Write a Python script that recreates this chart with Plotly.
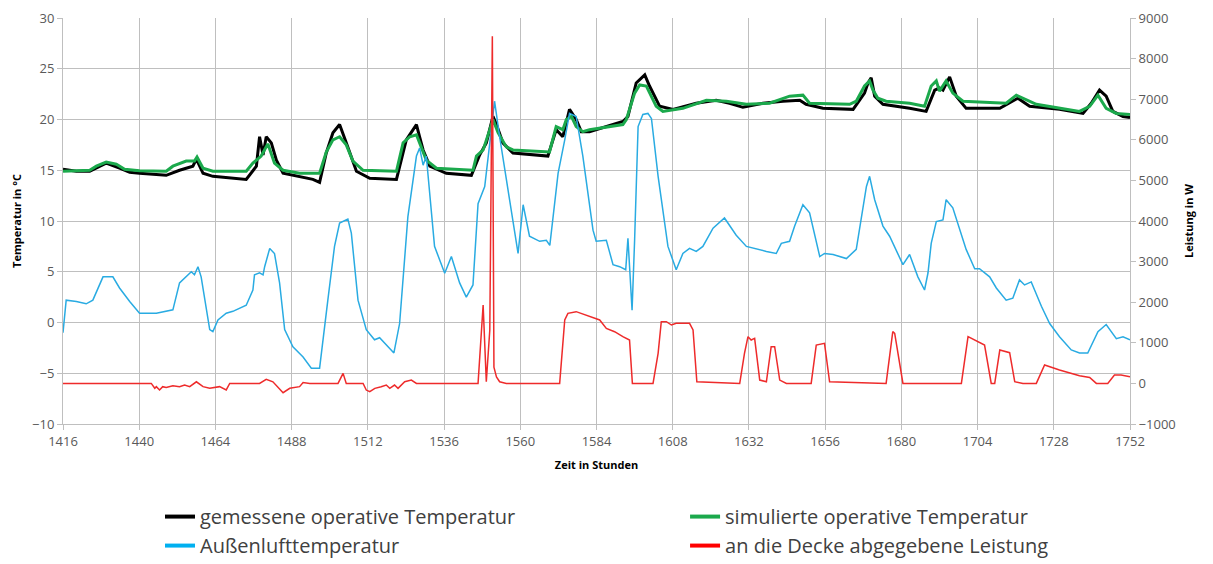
import plotly.graph_objects as go

# ---------------- data ----------------
hours_measured = [1416, 1420.2, 1424.4, 1429.6, 1433.8, 1437, 1440.1, 1448.5, 1452.7, 1456.9, 1458, 1460.1,
                  1463.2, 1469.5, 1473.7, 1476.9, 1477.9, 1479, 1480, 1481.6, 1483.2, 1485.3, 1490.5, 1494.7,
                  1496.8, 1498.9, 1501, 1503.1, 1505.2, 1508.4, 1512.6, 1521, 1524.1, 1527.3, 1528.3, 1529.4,
                  1531.5, 1536.7, 1544.6, 1547.2, 1549.3, 1551.4, 1552.5, 1554.5, 1557.7, 1568.7, 1571.3,
                  1573.4, 1575.5, 1577.6, 1579.2, 1581.8, 1592.3, 1593.9, 1596.5, 1599.2, 1600.7, 1603.9,
                  1608.1, 1615.4, 1621.7, 1625.9, 1630.1, 1636.4, 1642.7, 1648, 1650, 1655.3, 1664.8, 1666.8,
                  1668.4, 1669.5, 1670.5, 1671.6, 1674.2, 1682.6, 1687.8, 1690.5, 1692, 1693.1, 1695.2,
                  1697.3, 1700.4, 1711, 1716.7, 1720.4, 1729.8, 1737.2, 1739.8, 1742.4, 1744.5, 1746.6,
                  1749.8, 1752]
temp_measured = [15.1, 14.9, 14.9, 15.7, 15.2, 14.8, 14.7, 14.5, 15.0, 15.4, 16.1, 14.7,
                 14.4, 14.2, 14.1, 15.4, 18.3, 16.5, 18.3, 17.7, 16.0, 14.7, 14.4, 14.1,
                 13.8, 16.7, 18.7, 19.5, 17.7, 14.9, 14.2, 14.1, 18.0, 19.5, 18.3, 17.0,
                 15.4, 14.7, 14.5, 16.5, 17.7, 20.3, 19.5, 17.7, 16.7, 16.4, 19.0,
                 18.3, 21.0, 20.0, 18.8, 18.8, 19.8, 20.3, 23.6, 24.4, 23.3, 21.3,
                 21.0, 21.6, 21.9, 21.6, 21.2, 21.6, 21.8, 21.9, 21.5, 21.1, 21.0, 21.9,
                 22.6, 23.6, 24.1, 22.3, 21.5, 21.1, 20.8, 22.9, 23.1, 22.9, 24.2,
                 22.3, 21.1, 21.1, 22.1, 21.3, 21.0, 20.6, 21.6, 22.9, 22.3, 20.8,
                 20.3, 20.2]

hours_simulated = [1416, 1424.4, 1426.5, 1429.6, 1432.8, 1435.4, 1440.1, 1448.5, 1450.6, 1454.8, 1457.4,
                   1458.2, 1460.1, 1463.2, 1473.7, 1475.8, 1478.4, 1480.5, 1482.6, 1485.3, 1490.5, 1496.8,
                   1498.9, 1501, 1503.1, 1505.2, 1507.3, 1510.5, 1521, 1523.1, 1525.2, 1527.3, 1528.3,
                   1530.4, 1533.6, 1545.1, 1546.2, 1548.3, 1550.4, 1551.4, 1553, 1555.6, 1557.7, 1569.2,
                   1571.3, 1573.4, 1574.5, 1576.1, 1577.6, 1579.7, 1581.8, 1592.3, 1593.4, 1596, 1597.6,
                   1599.7, 1602.8, 1604.9, 1611.2, 1618.6, 1624.9, 1631.2, 1638.5, 1644.8, 1649, 1651.1,
                   1663.7, 1665.8, 1668.4, 1670, 1671.05, 1672.6, 1675.2, 1682.6, 1687.3, 1689.4, 1691,
                   1692, 1694.1, 1696.2, 1699.4, 1713, 1716.2, 1722.5, 1736.1, 1739.3, 1741.9, 1744.5,
                   1747.7, 1752]
temp_simulated = [14.9, 15.0, 15.4, 15.8, 15.6, 15.1, 14.95, 14.9, 15.4, 15.9, 15.9,
                  16.3, 15.2, 14.9, 14.9, 15.7, 16.4, 17.6, 15.7, 15.0, 14.7, 14.7,
                  16.8, 18.0, 18.3, 17.5, 15.9, 15.0, 14.9, 17.7, 18.3, 18.5, 17.7,
                  16.0, 15.2, 15.0, 16.4, 17.0, 19.0, 20.0, 18.7, 17.3, 17.0, 16.8,
                  19.3, 19.0, 20.0, 20.3, 19.3, 18.8, 19.0, 19.5, 20.0, 22.6, 23.4,
                  23.3, 21.3, 20.8, 21.1, 21.9, 21.8, 21.5, 21.6, 22.3, 22.4, 21.6,
                  21.5, 21.8, 23.3, 23.8, 22.9, 22.1, 21.8, 21.6, 21.3, 23.3, 23.8,
                  22.8, 23.8, 22.6, 21.8, 21.6, 22.4, 21.5, 20.8, 21.3, 22.4, 21.1,
                  20.6, 20.5]

hours_outdoor = [1416, 1417, 1420.2, 1423.3, 1425.4, 1428.6, 1431.7, 1433.8, 1437, 1440.1, 1445.4, 1450.6,
                 1452.7, 1454.8, 1456.4, 1457.4, 1458.5, 1459.5, 1461.1, 1462.2, 1463.2, 1464.8, 1467.4,
                 1469.5, 1473.7, 1475.8, 1476.3, 1477.9, 1479, 1479.5, 1481.1, 1482.6, 1484.2, 1485.8,
                 1488.4, 1491.6, 1494.2, 1496.8, 1499.4, 1501.5, 1503.1, 1505.7, 1506.8, 1508.9, 1511.5,
                 1514.1, 1515.7, 1517.8, 1520.2, 1522, 1524.6, 1527.3, 1528.3, 1529.4, 1530.4, 1533.0,
                 1536.2, 1538.3, 1540.9, 1543, 1545.1, 1546.7, 1548.8, 1550.4, 1551.9, 1553.5, 1556.7,
                 1559.3, 1560.9, 1562.9, 1566.1, 1568.2, 1569.3, 1571.9, 1574, 1575.5, 1577.6, 1579.7,
                 1582.9, 1583.9, 1587.1, 1589.2, 1591.3, 1593.2, 1593.9, 1594.4, 1595.2, 1596, 1597.1,
                 1598.6, 1600.2, 1601.3, 1603.4, 1606.5, 1609.1, 1611.2, 1613.3, 1615.4, 1617.5, 1620.7,
                 1624.3, 1628, 1631.2, 1637.5, 1640.6, 1642.2, 1644.8, 1646.4, 1649, 1651.1, 1654.3,
                 1655.8, 1658.5, 1662.7, 1665.8, 1669, 1670, 1671.6, 1674.2, 1676.3, 1680.5, 1682.6,
                 1685.2, 1687.3, 1688.4, 1689.4, 1691, 1693.1, 1694.1, 1696.2, 1700.4, 1703.1, 1704.6,
                 1707.8, 1709.9, 1713, 1715.1, 1717.2, 1718.8, 1720.9, 1724.1, 1726.7, 1729.8, 1733.5,
                 1736.1, 1738.7, 1741.9, 1744.5, 1747.7, 1749.8, 1752]
temp_outdoor = [-1.0, 2.2, 2.07, 1.84, 2.2, 4.5, 4.5, 3.4, 2.07, 0.92, 0.92, 1.25,
                3.9, 4.5, 5.0, 4.7, 5.5, 4.5, 1.6, -0.7, -0.9, 0.26, 0.92,
                1.1, 1.7, 3.2, 4.7, 4.9, 4.7, 5.5, 7.3, 6.8, 3.9, -0.7,
                -2.4, -3.4, -4.5, -4.5, 2.2, 7.5, 9.8, 10.2, 8.8, 2.2, -0.7,
                -1.7, -1.5, -2.2, -3.0, -0.1, 10.4, 16.4, 17.2, 15.5, 16.4, 7.5,
                4.85, 6.5, 3.9, 2.5, 3.7, 11.7, 13.4, 17.7, 21.8, 18.3, 12.1,
                6.8, 11.6, 8.5, 8.0, 8.1, 7.6, 14.7, 18.0, 20.6, 20.3, 16.4,
                9.1, 8.0, 8.1, 5.7, 5.5, 5.2, 8.3, 5.5, 1.2, 8.1, 19.3,
                20.5, 20.6, 20.1, 14.4, 7.5, 5.2, 6.8, 7.3, 7.0, 7.5, 9.3,
                10.3, 8.6, 7.5, 7.0, 6.8, 7.8, 8.0, 9.5, 11.6, 10.8, 6.5,
                6.8, 6.7, 6.3, 7.2, 13.4, 14.4, 12.1, 9.5, 8.5, 5.7, 6.7,
                4.5, 3.2, 4.9, 7.8, 9.95, 10.1, 12.1, 11.3, 7.2, 5.3, 5.3,
                4.5, 3.4, 2.2, 2.4, 4.2, 3.7, 4.0, 1.6, -0.1, -1.4, -2.7,
                -3.0, -3.0, -0.9, -0.2, -1.6, -1.4, -1.7]

hours_power = [1416, 1443.8, 1444.9, 1445.4, 1446.4, 1447.4, 1448.5, 1450.6, 1452.7, 1454.3, 1455.9, 1458,
               1460.1, 1462.2, 1465.3, 1467.4, 1468.5, 1477.9, 1480, 1482.1, 1485.3, 1487.4, 1490.5, 1491.6,
               1493.7, 1502.6, 1504.2, 1505.2, 1510.5, 1511.5, 1512.6, 1514.2, 1516.2, 1517.8, 1518.9,
               1520.4, 1521.5, 1523.6, 1525.7, 1527.3, 1546.7, 1548.3, 1549.3, 1550.4, 1551.2, 1551.7,
               1552.5, 1553.5, 1555.6, 1572.4, 1574, 1575, 1577.6, 1580.8, 1585, 1587.1, 1589.7, 1592.3,
               1594.4, 1595.3, 1601.8, 1603.4, 1604.4, 1606, 1607.6, 1609.1, 1613.3, 1614.4, 1615.6,
               1629.1, 1630.6, 1631.7, 1632.7, 1633.8, 1635.4, 1637.5, 1639.0, 1640.1, 1641.7, 1643.8,
               1651.6, 1653.2, 1655.8, 1657.4, 1675.2, 1677.3, 1677.9, 1680.5, 1698.9, 1701, 1703.1,
               1706.2, 1708.3, 1709.4, 1711, 1714.1, 1715.7, 1718.3, 1722.5, 1725.1, 1729.8, 1736.1,
               1739.3, 1741.4, 1745, 1747.1, 1749.2, 1752]
power_w = [0, 0, -120, -80, -160, -80, -100, -60, -80, -40, -80, 40,
           -80, -120, -80, -160, 0, 0, 100, 40, -230, -120, -80, 20,
           0, 0, 247, 0, 0, -164, -205, -123, -82, -40, -123,
           -40, -123, 41, 82, 0, 0, 1932, 41, 1315, 8550, 400,
           160, 40, 0, 0, 1562, 1726, 1767, 1685, 1562, 1356, 1274, 1151,
           1069, 0, 0, 740, 1521, 1521, 1438, 1480, 1480, 1315, 41,
           0, 740, 1151, 1069, 1110, 82, 41, 904, 904, 82, 0,
           0, 945, 986, 41, 0, 1274, 1233, 0, 0, 1151, 1069,
           945, 0, 0, 822, 756, 41, 0, 0, 452, 329, 189,
           148, 0, 0, 205, 205, 164]

x_ticks = [1416, 1440, 1464, 1488, 1512, 1536, 1560, 1584, 1608, 1632, 1656, 1680, 1704, 1728, 1752]
temp_ticks = [-10, -5, 0, 5, 10, 15, 20, 25, 30]
power_ticks = [-1000, 0, 1000, 2000, 3000, 4000, 5000, 6000, 7000, 8000, 9000]

names = ["gemessene operative Temperatur", "simulierte operative Temperatur",
         "Außenlufttemperatur", "an die Decke abgegebene Leistung"]
colors = ["#000000", "#1BA94C", "#29ABE2", "#EE2B2B"]
legend_colors = ["#000000", "#1BA94C", "#00B0F0", "#FF0000"]

# ---------------- figure ----------------
fig = go.Figure()
fig.add_trace(go.Scatter(x=hours_measured, y=temp_measured, mode="lines", name=names[0],
                         line=dict(color=colors[0], width=3), showlegend=False))
fig.add_trace(go.Scatter(x=hours_simulated, y=temp_simulated, mode="lines", name=names[1],
                         line=dict(color=colors[1], width=3), showlegend=False))
fig.add_trace(go.Scatter(x=hours_outdoor, y=temp_outdoor, mode="lines", name=names[2],
                         line=dict(color=colors[2], width=1.5), showlegend=False))
fig.add_trace(go.Scatter(x=hours_power, y=power_w, mode="lines", name=names[3], yaxis="y2",
                         line=dict(color=colors[3], width=1.5), showlegend=False))

# legend entries (thick keys as in the reference), two columns
legend_ids = ["legend", "legend2", "legend", "legend2"]
for nm, col, lg in zip(names, legend_colors, legend_ids):
    fig.add_trace(go.Scatter(x=[None], y=[None], mode="lines", name=nm, legend=lg,
                             line=dict(color=col, width=4), showlegend=True))

grid = "#BFBFBF"
tickfont = dict(family="Open Sans, sans-serif", size=13, color="#595959")
titlefont = dict(family="Open Sans, sans-serif", size=11, color="#000000", weight="bold")
legfont = dict(family="Open Sans, sans-serif", size=20, color="#404040")

fig.update_layout(
    width=1213, height=564,
    margin=dict(l=63, r=83, t=18, b=140, autoexpand=False),
    paper_bgcolor="white", plot_bgcolor="white",
    showlegend=True,
    xaxis=dict(range=[1416, 1752], tickvals=x_ticks, ticktext=[str(v) for v in x_ticks],
               showgrid=True, gridcolor=grid, gridwidth=1, zeroline=False,
               showline=True, linecolor=grid, mirror=False,
               ticks="outside", ticklen=5, tickcolor=grid, tickfont=tickfont,
               title=dict(text="Zeit in Stunden", font=titlefont, standoff=12)),
    yaxis=dict(range=[-10, 30], tickvals=temp_ticks, showgrid=True, gridcolor=grid, gridwidth=1,
               zeroline=False, showline=True, linecolor=grid,
               ticks="outside", ticklen=5, tickcolor=grid, tickfont=tickfont,
               title=dict(text="Temperatur in °C", font=titlefont, standoff=8)),
    yaxis2=dict(range=[-1000, 9000], tickvals=power_ticks, overlaying="y", side="right",
                showgrid=False, zeroline=False, showline=True, linecolor=grid,
                ticks="outside", ticklen=5, tickcolor=grid, tickfont=tickfont,
                title=dict(text="Leistung in W", font=titlefont, standoff=10)),
    legend=dict(orientation="v", x=0.0909, xanchor="left", y=-0.18, yanchor="top",
                itemwidth=30, font=legfont, bgcolor="rgba(0,0,0,0)", tracegroupgap=0),
    legend2=dict(orientation="v", x=0.583, xanchor="left", y=-0.18, yanchor="top",
                 itemwidth=30, font=legfont, bgcolor="rgba(0,0,0,0)", tracegroupgap=0),
)

fig.write_html("out.html")
